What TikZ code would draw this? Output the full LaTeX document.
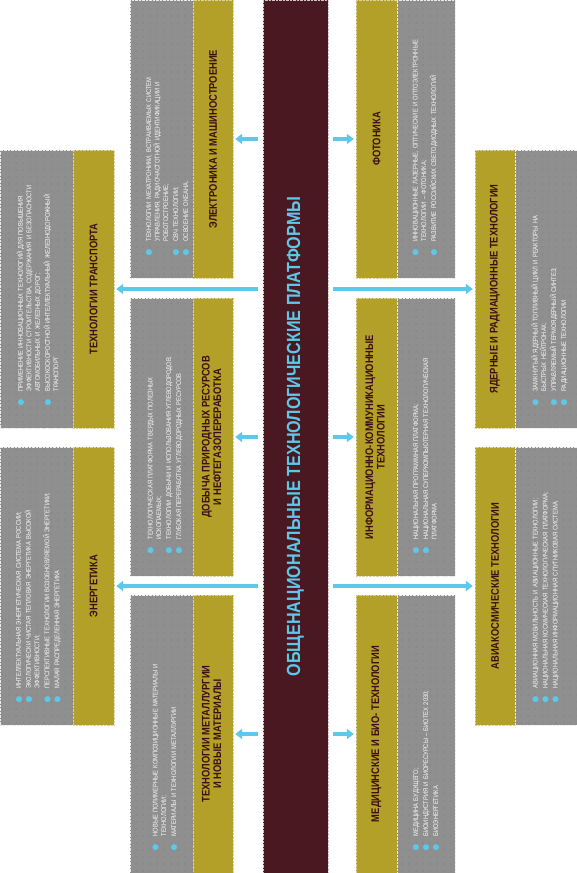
\documentclass[tikz,border=0pt]{standalone}
\usepackage{fontspec}
\setmainfont[FakeStretch=0.85]{Liberation Sans}
\newfontfamily\bulfont{Liberation Sans}
\usepackage{graphicx}
\usetikzlibrary{arrows.meta,patterns.meta}

\definecolor{platgray}{RGB}{143,143,143}
\definecolor{platdot}{RGB}{112,112,120}
\definecolor{platolive}{RGB}{178,160,40}
\definecolor{platbar}{RGB}{74,24,32}
\definecolor{platink}{RGB}{60,14,20}
\definecolor{platcyan}{RGB}{94,200,234}

\pgfdeclarepattern{name=griddots, type=uncolored,
  bottom left={\pgfpointorigin}, top right={\pgfpoint{7pt}{7pt}},
  tile size={\pgfpoint{7pt}{7pt}},
  code={\pgfpathcircle{\pgfpoint{3.5pt}{3.5pt}}{0.55pt}\pgfusepath{fill}}}

\newcommand{\bulletmark}{\smash{\raisebox{-5.4pt}{\textcolor{platcyan}{\bulfont\fontsize{22}{22}\selectfont\textbullet}}}}
\newcommand{\itm}[1]{\par\noindent\hangindent=15pt\hangafter=1\makebox[15pt][l]{\bulletmark}#1\par\vspace{1.5pt}}

\begin{document}
\begin{tikzpicture}[x=1pt,y=-1pt,
  titlebox/.style={fill=platolive, draw=platolive!45!white, densely dotted, inner sep=0pt,
    minimum width=41pt, minimum height=278pt, text=platink,
    font=\bfseries\fontsize{11}{11.5}\selectfont},
  itembox/.style={preaction={fill=platgray}, pattern=griddots, pattern color=platdot,
    draw=white!85!gray, densely dotted, inner sep=0pt, minimum height=278pt},
  itemtext/.style={rotate=90, anchor=north west, inner sep=0pt, text width=235pt,
    align=left, text=white!96!gray, font=\fontsize{6.8}{8.5}\selectfont},
  arr/.style={draw=platcyan, line width=4.5pt, -{Triangle[width=10pt,length=7pt]},
    shorten <=5pt, shorten >=2pt}]
\useasboundingbox (0,0) rectangle (577,873);

% central bar
\node[fill=platbar, draw=white!75!platbar, densely dotted, inner sep=0pt,
  minimum width=65pt, minimum height=873pt, text=platcyan,
  font=\bfseries\fontsize{19}{19}\selectfont] (core) at (295.5,436.5)
  {\rotatebox{90}{ОБЩЕНАЦИОНАЛЬНЫЕ ТЕХНОЛОГИЧЕСКИЕ ПЛАТФОРМЫ}};

% left, inner column
\node[itembox, minimum width=63pt] (elecitems) at (161.5,139) {};
\node[titlebox, minimum width=40pt] (elec) at (213,139) {\rotatebox{90}{ЭЛЕКТРОНИКА И МАШИНОСТРОЕНИЕ}};
\node[itemtext] (electext) at ([shift={(12.5,-21.5)}]elecitems.south west) {%
  \itm{ТЕХНОЛОГИИ МЕХАТРОНИКИ, ВСТРАИВАЕМЫХ СИСТЕМ\newline УПРАВЛЕНИЯ, РАДИОЧАСТОТНОЙ ИДЕНТИФИКАЦИИ И\newline РОБОТОСТРОЕНИЕ;}
  \itm{СВЧ ТЕХНОЛОГИИ;}
  \itm{ОСВОЕНИЕ ОКЕАНА.}};

\node[itembox, minimum width=63pt] (mineitems) at (161.5,437) {};
\node[titlebox, minimum width=40pt] (mine) at (213,437) {\rotatebox{90}{\begin{tabular}{@{}c@{}}ДОБЫЧА ПРИРОДНЫХ РЕСУРСОВ\\И НЕФТЕГАЗОПЕРЕРАБОТКА\end{tabular}}};
\node[itemtext] (minetext) at ([shift={(14,-21.5)}]mineitems.south west) {%
  \itm{ТЕХНОЛОГИЧЕСКАЯ ПЛАТФОРМА ТВЕРДЫХ ПОЛЕЗНЫХ\newline ИСКОПАЕМЫХ;}
  \itm{ТЕХНОЛОГИИ ДОБЫЧИ И ИСПОЛЬЗОВАНИЯ УГЛЕВОДОРОДОВ;}
  \itm{ГЛУБОКАЯ ПЕРЕРАБОТКА УГЛЕВОДОРОДНЫХ РЕСУРСОВ}};

\node[itembox, minimum width=63pt] (metalitems) at (161.5,734) {};
\node[titlebox, minimum width=40pt] (metal) at (213,734) {\rotatebox{90}{\begin{tabular}{@{}c@{}}ТЕХНОЛОГИИ МЕТАЛЛУРГИИ\\И НОВЫЕ МАТЕРИАЛЫ\end{tabular}}};
\node[itemtext] (metaltext) at ([shift={(19,-21.5)}]metalitems.south west) {%
  \itm{НОВЫЕ ПОЛИМЕРНЫЕ КОМПОЗИЦИОННЫЕ МАТЕРИАЛЫ И\newline ТЕХНОЛОГИИ;}
  \itm{МАТЕРИАЛЫ И ТЕХНОЛОГИИ МЕТАЛЛУРГИИ}};

% left, outer column
\node[itembox, minimum width=73pt] (transitems) at (36.5,289) {};
\node[titlebox] (trans) at (93.5,289) {\rotatebox{90}{ТЕХНОЛОГИИ ТРАНСПОРТА}};
\node[itemtext] (transtext) at ([shift={(14.5,-21.5)}]transitems.south west) {%
  \itm{ПРИМЕНЕНИЕ ИННОВАЦИОННЫХ ТЕХНОЛОГИЙ ДЛЯ ПОВЫШЕНИЯ\newline ЭФФЕКТИВНОСТИ СТРОИТЕЛЬСТВА, СОДЕРЖАНИЯ И БЕЗОПАСНОСТИ\newline АВТОМОБИЛЬНЫХ И ЖЕЛЕЗНЫХ ДОРОГ;}
  \itm{ВЫСОКОСКОРОСТНОЙ ИНТЕЛЛЕКТУАЛЬНЫЙ ЖЕЛЕЗНОДОРОЖНЫЙ\newline ТРАНСПОРТ}};

\node[itembox, minimum width=73pt] (energyitems) at (36.5,586) {};
\node[titlebox] (energy) at (93.5,586) {\rotatebox{90}{ЭНЕРГЕТИКА}};
\node[itemtext] (energytext) at ([shift={(12.5,-21.5)}]energyitems.south west) {%
  \itm{ИНТЕЛЛЕКТУАЛЬНАЯ ЭНЕРГЕТИЧЕСКАЯ СИСТЕМА РОССИИ;}
  \itm{ЭКОЛОГИЧЕСКИ ЧИСТАЯ ТЕПЛОВАЯ ЭНЕРГЕТИКА ВЫСОКОЙ\newline ЭФФЕКТИВНОСТИ;}
  \itm{ПЕРСПЕКТИВНЫЕ ТЕХНОЛОГИИ ВОЗОБНОВЛЯЕМОЙ ЭНЕРГЕТИКИ;}
  \itm{МАЛАЯ РАСПРЕДЕЛЕННАЯ ЭНЕРГЕТИКА}};

% right, inner column
\node[titlebox] (foton) at (376.5,139) {\rotatebox{90}{ФОТОНИКА}};
\node[itembox, minimum width=58pt] (fotonitems) at (426,139) {};
\node[itemtext] (fotontext) at ([shift={(12,-21.5)}]fotonitems.south west) {%
  \itm{ИННОВАЦИОННЫЕ ЛАЗЕРНЫЕ, ОПТИЧЕСКИЕ И ОПТОЭЛЕКТРОННЫЕ\newline ТЕХНОЛОГИИ – ФОТОНИКА;}
  \itm{РАЗВИТИЕ РОССИЙСКИХ СВЕТОДИОДНЫХ ТЕХНОЛОГИЙ}};

\node[titlebox] (ict) at (376.5,437) {\rotatebox{90}{\begin{tabular}{@{}c@{}}ИНФОРМАЦИОННО-КОММУНИКАЦИОННЫЕ\\ТЕХНОЛОГИИ\end{tabular}}};
\node[itembox, minimum width=58pt] (ictitems) at (426,437) {};
\node[itemtext] (icttext) at ([shift={(12.5,-21.5)}]ictitems.south west) {%
  \itm{НАЦИОНАЛЬНАЯ ПРОГРАММНАЯ ПЛАТФОРМА;}
  \itm{НАЦИОНАЛЬНАЯ СУПЕРКОМПЬЮТЕРНАЯ ТЕХНОЛОГИЧЕСКАЯ\newline ПЛАТФОРМА}};

\node[titlebox] (med) at (376.5,734) {\rotatebox{90}{МЕДИЦИНСКИЕ И БИО- ТЕХНОЛОГИИ}};
\node[itembox, minimum width=58pt] (meditems) at (426,734) {};
\node[itemtext] (medtext) at ([shift={(12.5,-21.5)}]meditems.south west) {%
  \itm{МЕДИЦИНА БУДУЩЕГО;}
  \itm{БИОИНДУСТРИЯ И БИОРЕСУРСЫ – БИОТЕХ 2030;}
  \itm{БИОЭНЕРГЕТИКА}};

% right, outer column
\node[titlebox, minimum width=40pt] (nucl) at (495,289) {\rotatebox{90}{ЯДЕРНЫЕ И РАДИАЦИОННЫЕ ТЕХНОЛОГИИ}};
\node[itembox, minimum width=62pt] (nuclitems) at (546,289) {};
\node[itemtext] (nucltext) at ([shift={(14,-21.5)}]nuclitems.south west) {%
  \itm{ЗАМКНУТЫЙ ЯДЕРНЫЙ ТОПЛИВНЫЙ ЦИКЛ И РЕАКТОРЫ НА\newline БЫСТРЫХ НЕЙТРОНАХ;}
  \itm{УПРАВЛЯЕМЫЙ ТЕРМОЯДЕРНЫЙ СИНТЕЗ;}
  \itm{РАДИАЦИОННЫЕ ТЕХНОЛОГИИ}};

\node[titlebox, minimum width=40pt] (avia) at (495,586) {\rotatebox{90}{АВИАКОСМИЧЕСКИЕ ТЕХНОЛОГИИ}};
\node[itembox, minimum width=62pt] (aviaitems) at (546,586) {};
\node[itemtext] (aviatext) at ([shift={(14,-21.5)}]aviaitems.south west) {%
  \itm{АВИАЦИОННАЯ МОБИЛЬНОСТЬ И АВИАЦИОННЫЕ ТЕХНОЛОГИИ;}
  \itm{НАЦИОНАЛЬНАЯ КОСМИЧЕСКАЯ ТЕХНОЛОГИЧЕСКАЯ ПЛАТФОРМА;}
  \itm{НАЦИОНАЛЬНАЯ ИНФОРМАЦИОННАЯ СПУТНИКОВАЯ СИСТЕМА.}};

% arrows from the bar
\draw[arr] (core.west |- elec.east) -- (elec.east);
\draw[arr] (core.west |- trans.east) -- (trans.east);
\draw[arr] (core.west |- mine.east) -- (mine.east);
\draw[arr] (core.west |- energy.east) -- (energy.east);
\draw[arr] (core.west |- metal.east) -- (metal.east);
\draw[arr] (core.east |- foton.west) -- (foton.west);
\draw[arr] (core.east |- nucl.west) -- (nucl.west);
\draw[arr] (core.east |- ict.west) -- (ict.west);
\draw[arr] (core.east |- avia.west) -- (avia.west);
\draw[arr] (core.east |- med.west) -- (med.west);
\end{tikzpicture}
\end{document}
